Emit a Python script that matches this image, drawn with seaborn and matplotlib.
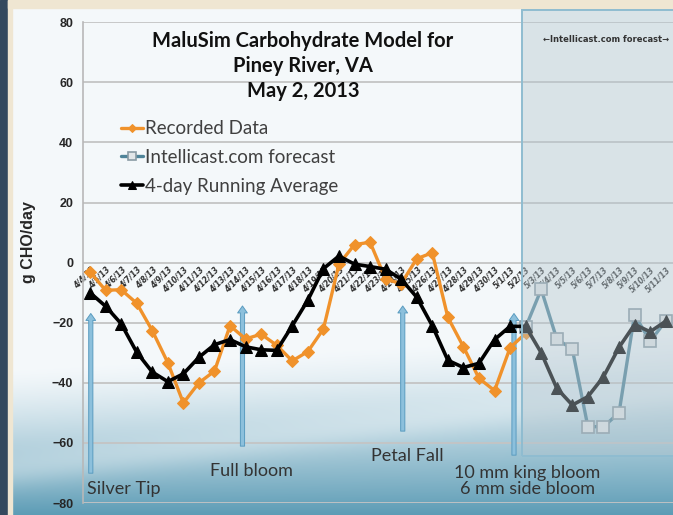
import numpy as np
import pandas as pd
import seaborn as sns
import matplotlib.pyplot as plt
from matplotlib.patches import Rectangle

# chart values
dates = [f"4/{d}/13" for d in range(4, 31)] + [f"5/{d}/13" for d in range(1, 12)]
recorded = [-3.1, -9.2, -9.0, -13.5, -22.6, -33.3, -46.7, -40.0, -36.1, -21.0,
            -25.4, -23.8, -27.5, -32.7, -29.6, -22.1, -0.5, 6.0, 6.8, -5.5,
            -7.0, 1.3, 3.3, -18.2, -28.0, -38.5, -42.6, -28.3, -23.5]
forecast = [-21.5, -8.9, -25.4, -28.8, -54.6, -54.6, -50.0, -17.3, -26.2, -19.4]
running_avg = [-10.0, -14.5, -20.3, -29.8, -36.4, -39.6, -37.0, -31.5, -27.3, -25.6,
               -28.0, -29.0, -29.2, -21.0, -12.5, -2.0, 2.2, -0.5, -1.3, -2.2,
               -5.5, -11.5, -21.0, -32.5, -34.9, -33.5, -25.6, -21.2, -21.2, -30.0,
               -41.8, -47.4, -44.6, -38.0, -28.2, -20.6, -23.0, -19.5]
forecast_start = 28

stage_names = ["Silver Tip", "Full bloom", "Petal Fall", "10 mm king bloom\n6 mm side bloom"]
stage_arrow_x = [0.05, 9.8, 20.1, 27.25]
stage_arrow_top = [-16, -13.5, -13.5, -16]
stage_arrow_bottom = [-71, -62, -57, -65]
stage_text_x = [-0.2, 10.4, 20.4, 28.1]
stage_text_y = [-75.5, -69.2, -64.5, -72.7]
stage_text_ha = ["left", "center", "center", "center"]

title = "MaluSim Carbohydrate Model for\nPiney River, VA\nMay 2, 2013"

sns.set_style("white")
plt.rcParams["font.family"] = ["Lato", "DejaVu Sans"]

W, H = 673, 515
fig = plt.figure(figsize=(W / 100, H / 100), dpi=100)

# slide background
bg = fig.add_axes([0, 0, 1, 1])
yy, xx = np.mgrid[0:H, 0:W]
top = np.array([0.958, 0.974, 0.984])
bottom = np.array([0.36, 0.61, 0.71])
y0 = 370 - 40 * xx / W
t = np.clip((yy - y0) / (H - y0), 0, 1) ** 1.3
swoosh = np.exp(-((yy - (470 - 80 * xx / W)) / 18.0) ** 2) * 0.25 * (yy > 380)
img = top * (1 - t[..., None]) + bottom * t[..., None]
img = img + (1 - img) * swoosh[..., None]
bg.imshow(img, extent=[0, W, H, 0], aspect="auto")
bg.set_xlim(0, W)
bg.set_ylim(H, 0)
bg.axis("off")
fig.add_artist(Rectangle((0, 0), 8 / W, 1, transform=fig.transFigure,
                         color="#34495e", zorder=1))
fig.add_artist(Rectangle((8 / W, 0), 4 / W, 1, transform=fig.transFigure,
                         color="#efe6d2", zorder=1))
fig.add_artist(Rectangle((8 / W, 1 - 8 / H), 1, 8 / H, transform=fig.transFigure,
                         color="#efe6d2", zorder=1))

ax = fig.add_axes([83 / W, 12 / H, 1 - 83 / W, (503 - 22.3) / H])
ax.set_facecolor("none")

idx = np.arange(len(running_avg))
sns.lineplot(x=idx[:len(recorded)], y=recorded, ax=ax, color="#f0922b", linewidth=2.4,
             marker="D", markersize=6, markeredgecolor="#f0922b", label="Recorded Data", zorder=3)
sns.lineplot(x=idx[forecast_start:forecast_start + len(forecast)], y=forecast, ax=ax,
             color="#4f8499", linewidth=2.4, marker="s", markersize=8.5,
             markerfacecolor="#e2e6e8", markeredgecolor="#8a9ba4", markeredgewidth=1.2,
             label="Intellicast.com forecast", zorder=3)
sns.lineplot(x=idx, y=running_avg, ax=ax, color="black", linewidth=2.6,
             marker="^", markersize=8, markeredgecolor="black",
             label="4-day Running Average", zorder=4)

ax.set_xlim(-0.45, 37.47)
ax.set_ylim(-80, 80)
ax.set_yticks(range(-80, 81, 20))
ax.yaxis.grid(True, color="#c4c4c4", linewidth=1.3)
ax.set_axisbelow(True)
ax.tick_params(axis="y", length=4, color="#b0b0b0", labelsize=9, pad=3)
for lab in ax.get_yticklabels():
    lab.set_fontweight("bold")
    lab.set_family(["Liberation Sans", "DejaVu Sans"])
ax.spines["left"].set_color("#b8b8b8")
ax.spines["left"].set_linewidth(1.2)
for s in ["top", "right"]:
    ax.spines[s].set_visible(False)
ax.spines["bottom"].set_position(("data", 0))
ax.spines["bottom"].set_visible(False)

ax.set_xticks(idx)
ax.set_xticklabels(dates, rotation=45, ha="right", rotation_mode="anchor",
                   fontsize=5.5, fontweight="bold", fontstyle="italic", color="#303030",
                   family=["DejaVu Sans"])
ax.tick_params(axis="x", length=0, pad=2)

ax.set_xlabel("")
ax.set_ylabel("g CHO/day", fontsize=11.5, fontweight="bold",
              family=["Liberation Sans", "DejaVu Sans"])
ax.yaxis.set_label_coords(-0.08, 0.543)

# phenology stage arrows
for x, y1, y2 in zip(stage_arrow_x, stage_arrow_bottom, stage_arrow_top):
    ax.annotate("", xy=(x, y2), xytext=(x, y1),
                arrowprops=dict(arrowstyle="simple,head_width=0.7,head_length=0.5,tail_width=0.3",
                                fc="#8cc0dc", ec="#5a9cc0", lw=0.7, mutation_scale=10),
                zorder=2)
for name, x, y, ha in zip(stage_names, stage_text_x, stage_text_y, stage_text_ha):
    ax.text(x, y, name, ha=ha, va="center", fontsize=13, color="#333333",
            linespacing=1.05)

leg = ax.legend(loc="upper left", bbox_to_anchor=(112 / W, 1 - 111 / H),
                bbox_transform=fig.transFigure, frameon=False, fontsize=13.5,
                handlelength=1.15, handletextpad=0.1, labelspacing=0.62,
                borderpad=0, markerscale=0.7)
for txt in leg.get_texts():
    txt.set_color("#404040")

fig.text(303 / W, 1 - 31 / H, title, ha="center", va="top", fontsize=14.5,
         fontweight="bold", linespacing=1.3, color="#111111")

# forecast window overlay
fig.add_artist(Rectangle((522 / W, 1 - 456 / H), 0.3, (456 - 10) / H,
                         transform=fig.transFigure, facecolor="#b4c6cf", alpha=0.42,
                         edgecolor="none", zorder=5))
fig.add_artist(Rectangle((522 / W, 1 - 456 / H), 0.3, (456 - 10) / H,
                         transform=fig.transFigure, facecolor="none",
                         edgecolor="#8fbcd0", linewidth=1.4, zorder=6))
fig.text(543 / W, 1 - 40 / H, "\u2190Intellicast.com forecast\u2192", fontsize=6,
         fontweight="bold", color="#333333", va="center", ha="left", zorder=7,
         family=["DejaVu Sans"])

fig.savefig("out.png", dpi=100)
